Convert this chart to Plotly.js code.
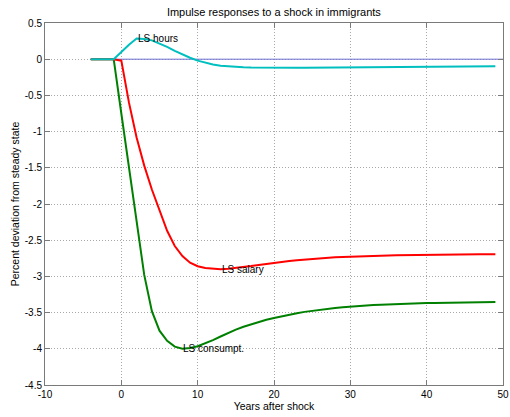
<!DOCTYPE html>
<html>
<head>
<meta charset="utf-8">
<script src="https://cdn.plot.ly/plotly-3.0.1.min.js"></script>
<style>html,body{margin:0;padding:0;background:#fff;}#chart{width:510px;height:417px;}</style>
</head>
<body>
<div id="chart"></div>
<script>
var years = [-4,-3,-2,-1,0,1,2,3,4,5,6,7,8,9,10,11,12,13,14,15,16,17,18,19,20,21,22,23,24,25,26,27,28,29,30,31,32,33,34,35,36,37,38,39,40,41,42,43,44,45,46,47,48,49];
var hours = [0,0,0,0,0.1,0.2,0.285,0.28,0.26,0.22,0.17,0.115,0.065,0.02,-0.02,-0.05,-0.073,-0.09,-0.1,-0.107,-0.112,-0.115,-0.117,-0.118,-0.118,-0.118,-0.118,-0.117,-0.117,-0.116,-0.115,-0.115,-0.114,-0.113,-0.112,-0.111,-0.11,-0.109,-0.108,-0.107,-0.106,-0.106,-0.105,-0.104,-0.104,-0.103,-0.102,-0.102,-0.101,-0.101,-0.1,-0.1,-0.099,-0.099];
var salary = [0,0,0,0,-0.02,-0.6,-1.08,-1.47,-1.8,-2.1,-2.37,-2.58,-2.72,-2.81,-2.86,-2.885,-2.897,-2.9,-2.895,-2.885,-2.872,-2.857,-2.842,-2.826,-2.812,-2.799,-2.788,-2.777,-2.767,-2.758,-2.75,-2.743,-2.737,-2.732,-2.727,-2.723,-2.719,-2.716,-2.713,-2.71,-2.708,-2.706,-2.704,-2.702,-2.701,-2.7,-2.699,-2.698,-2.697,-2.696,-2.695,-2.695,-2.694,-2.694];
var consumption = [0,0,0,0,-0.75,-1.5,-2.28,-2.98,-3.48,-3.75,-3.89,-3.97,-4.0,-3.99,-3.965,-3.925,-3.88,-3.83,-3.78,-3.735,-3.695,-3.66,-3.628,-3.6,-3.575,-3.55,-3.528,-3.508,-3.49,-3.475,-3.461,-3.449,-3.437,-3.426,-3.416,-3.408,-3.401,-3.395,-3.39,-3.385,-3.381,-3.377,-3.374,-3.371,-3.368,-3.366,-3.364,-3.362,-3.36,-3.358,-3.356,-3.355,-3.353,-3.352];
var baselineYears = [-4, 50];
var baselineValues = [0, 0];
var labelNames = ["LS hours", "LS salary", "LS consumpt."];
var labelYears = [2, 13, 8];
var labelValues = [0.29, -2.9, -4.0];
var xTickVals = [-10,0,10,20,30,40,50];
var xTickText = ["-10","0","10","20","30","40","50"];
var yTickVals = [0.5,0,-0.5,-1,-1.5,-2,-2.5,-3,-3.5,-4,-4.5];
var yTickText = ["0.5","0","-0.5","-1","-1.5","-2","-2.5","-3","-3.5","-4","-4.5"];

var font = '"Liberation Sans", Arial, Helvetica, sans-serif';
var traces = [
  {x: baselineYears, y: baselineValues, mode: 'lines', line: {color: 'rgb(110,110,210)', width: 1}, hoverinfo: 'skip'},
  {x: years, y: consumption, mode: 'lines', line: {color: 'rgb(0,128,0)', width: 2}},
  {x: years, y: salary, mode: 'lines', line: {color: 'rgb(255,0,0)', width: 2}},
  {x: years, y: hours, mode: 'lines', line: {color: 'rgb(0,191,191)', width: 2}}
];
var annotations = labelNames.map(function(t, i){
  return {x: labelYears[i], y: labelValues[i], xref: 'x', yref: 'y', text: t, showarrow: false,
          xanchor: 'left', yanchor: 'middle', font: {family: font, size: 10, color: '#000'}, borderpad: 0};
});
var axisCommon = {
  showline: true, linecolor: '#7a7a7a', linewidth: 1, mirror: 'ticks',
  ticks: 'inside', ticklen: 5, tickcolor: '#7a7a7a',
  showgrid: true, gridcolor: '#a8a8a8', griddash: '1px,2px', gridwidth: 1,
  zeroline: false, tickfont: {family: font, size: 10, color: '#000'}, tickmode: 'array'
};
var layout = {
  width: 510, height: 417,
  margin: {l: 45, r: 7, t: 23, b: 32},
  paper_bgcolor: '#fff', plot_bgcolor: '#fff',
  showlegend: false,
  font: {family: font, size: 10, color: '#000'},
  title: {text: 'Impulse responses to a shock in immigrants', font: {family: font, size: 11, color: '#000'}, x: 0.537, xanchor: 'center', y: 0.97, yanchor: 'middle'},
  xaxis: Object.assign({}, axisCommon, {range: [-10, 50], tickvals: xTickVals, ticktext: xTickText,
    title: {text: 'Years after shock', font: {family: font, size: 10.5, color: '#000'}, standoff: 3}}),
  yaxis: Object.assign({}, axisCommon, {range: [-4.5, 0.5], tickvals: yTickVals, ticktext: yTickText,
    title: {text: 'Percent deviation from steady state', font: {family: font, size: 10.5, color: '#000'}, standoff: 3}}),
  annotations: annotations
};
Plotly.newPlot('chart', traces, layout, {displayModeBar: false, staticPlot: true});
</script>
</body>
</html>
